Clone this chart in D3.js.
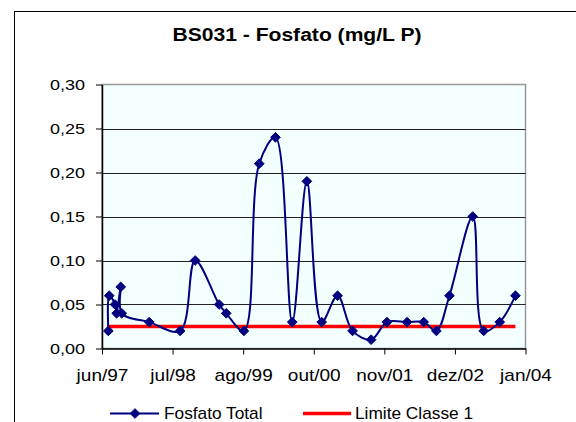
<!DOCTYPE html>
<html>
<head>
<meta charset="utf-8">
<script src="https://cdn.jsdelivr.net/npm/d3@7"></script>
<style>
  html, body { margin: 0; padding: 0; background: #fff; }
  svg { display: block; }
  text { font-family: "Liberation Sans", Arial, sans-serif; fill: #000; }
</style>
</head>
<body>
<svg id="chart" width="576" height="422"></svg>
<script>
// ---- data ----
const title = "BS031 - Fosfato (mg/L P)";
const sampleDates = [
  "1997-07-26", "1997-07-31", "1997-09-02", "1997-09-11", "1997-10-04", "1997-10-10",
  "1998-03-15", "1998-09-06", "1998-11-30", "1999-04-15", "1999-05-25", "1999-09-02",
  "1999-11-28", "2000-02-28", "2000-06-02", "2000-08-24", "2000-11-16", "2001-02-14",
  "2001-05-10", "2001-08-23", "2001-11-21", "2002-03-15", "2002-06-17", "2002-08-28",
  "2002-11-10", "2003-03-22", "2003-05-23", "2003-08-22", "2003-11-19"
];
const fosfatoTotal = [
  0.02, 0.06, 0.05, 0.04, 0.07, 0.04,
  0.03, 0.02, 0.10, 0.05, 0.04, 0.02,
  0.21, 0.24, 0.03, 0.19, 0.03, 0.06,
  0.02, 0.01, 0.03, 0.03, 0.03, 0.02,
  0.06, 0.15, 0.02, 0.03, 0.06
];
const limiteDates = ["1997-07-26", "2003-11-19"];
const limiteClasse1 = [0.025, 0.025];
const xTickDates = ["1997-06-20", "1998-07-25", "1999-08-29", "2000-10-02", "2001-11-06", "2002-12-11", "2004-01-15"];
const xTickLabels = ["jun/97", "jul/98", "ago/99", "out/00", "nov/01", "dez/02", "jan/04"];
const yTicks = [0, 0.05, 0.10, 0.15, 0.20, 0.25, 0.30];
const yTickLabels = ["0,00", "0,05", "0,10", "0,15", "0,20", "0,25", "0,30"];
const seriesNames = ["Fosfato Total", "Limite Classe 1"];

// ---- layout ----
const parse = d3.utcParse("%Y-%m-%d");
const plot = { left: 102, right: 525.5, top: 84.5, bottom: 348.5 };
const svg = d3.select("#chart");

const x = d3.scaleUtc()
  .domain([parse(xTickDates[0]), parse(xTickDates[xTickDates.length - 1])])
  .range([plot.left, plot.right]);
const y = d3.scaleLinear().domain([0, 0.30]).range([plot.bottom, plot.top]);

// outer chart border
svg.append("rect")
  .attr("x", 14.5).attr("y", 11.5).attr("width", 700).attr("height", 600)
  .attr("fill", "#fff").attr("stroke", "#000").attr("stroke-width", 1);

// title
svg.append("text")
  .attr("transform", "translate(297,40.5) scale(1.14,1)")
  .attr("text-anchor", "middle")
  .style("font-size", "18.5px").style("font-weight", "bold")
  .text(title);

// plot background
svg.append("rect")
  .attr("x", plot.left).attr("y", plot.top)
  .attr("width", plot.right - plot.left).attr("height", plot.bottom - plot.top)
  .attr("fill", "#F4FFFF").attr("stroke", "#999").attr("stroke-width", 1.5);

// gridlines
svg.append("g").selectAll("line")
  .data(yTicks.slice(1, -1))
  .join("line")
  .attr("x1", plot.left).attr("x2", plot.right)
  .attr("y1", d => Math.round(y(d)) + 0.5).attr("y2", d => Math.round(y(d)) + 0.5)
  .attr("stroke", "#222").attr("stroke-width", 1);

// y axis
const yAxis = svg.append("g")
  .attr("transform", `translate(${plot.left},0)`)
  .call(d3.axisLeft(y).tickValues(yTicks).tickSize(6).tickSizeOuter(0)
    .tickFormat((d, i) => yTickLabels[i]));
yAxis.select(".domain").attr("stroke", "#000").attr("stroke-width", 1.5);
yAxis.selectAll(".tick line").attr("stroke", "#000");
yAxis.selectAll(".tick text")
  .attr("x", null).attr("dy", "0.36em")
  .attr("transform", "translate(-17,0) scale(1.2,1)")
  .attr("text-anchor", "end")
  .style("font-size", "15px").attr("font-family", null);

// x axis
const xAxis = svg.append("g")
  .attr("transform", `translate(0,${plot.bottom})`)
  .call(d3.axisBottom(x).tickValues(xTickDates.map(parse)).tickSize(6).tickSizeOuter(0)
    .tickFormat((d, i) => xTickLabels[i]));
xAxis.select(".domain").attr("stroke", "#000").attr("stroke-width", 1.5);
xAxis.selectAll(".tick line").attr("stroke", "#000");
xAxis.selectAll(".tick text")
  .attr("y", null).attr("dy", null)
  .attr("transform", "translate(0,32.5) scale(1.12,1)")
  .attr("text-anchor", "middle")
  .style("font-size", "17px").attr("font-family", null);
svg.selectAll(".tick text").attr("fill", "#000");

// limite line
const limData = limiteDates.map((d, i) => ({ date: parse(d), v: limiteClasse1[i] }));
svg.append("path")
  .datum(limData)
  .attr("fill", "none").attr("stroke", "#FF0000").attr("stroke-width", 3.5)
  .attr("d", d3.line().x(d => x(d.date)).y(d => y(d.v)));

// fosfato smoothed line
const data = sampleDates.map((d, i) => ({ date: parse(d), v: fosfatoTotal[i] }));
svg.append("path")
  .datum(data)
  .attr("fill", "none").attr("stroke", "#000080").attr("stroke-width", 2)
  .attr("d", d3.line().x(d => x(d.date)).y(d => y(d.v)).curve(d3.curveCatmullRom.alpha(0.5)));

// markers
const diamond = d3.symbol().type(d3.symbolDiamond2).size(60);
svg.append("g").selectAll("path")
  .data(data)
  .join("path")
  .attr("transform", d => `translate(${x(d.date)},${y(d.v)})`)
  .attr("d", diamond)
  .attr("fill", "#000080").attr("stroke", "#000080").attr("stroke-width", 1);

// legend
const leg = svg.append("g");
leg.append("line").attr("x1", 110).attr("x2", 159).attr("y1", 413.5).attr("y2", 413.5)
  .attr("stroke", "#000080").attr("stroke-width", 2);
leg.append("path").attr("transform", "translate(135,413.5)").attr("d", diamond)
  .attr("fill", "#000080").attr("stroke", "#000080");
leg.append("text").attr("transform", "translate(164,418.5) scale(1.08,1)")
  .style("font-size", "16px").text(seriesNames[0]);
leg.append("line").attr("x1", 303).attr("x2", 351).attr("y1", 413.5).attr("y2", 413.5)
  .attr("stroke", "#FF0000").attr("stroke-width", 3.5);
leg.append("text").attr("transform", "translate(355,418.5) scale(1.08,1)")
  .style("font-size", "16px").text(seriesNames[1]);
</script>
</body>
</html>
